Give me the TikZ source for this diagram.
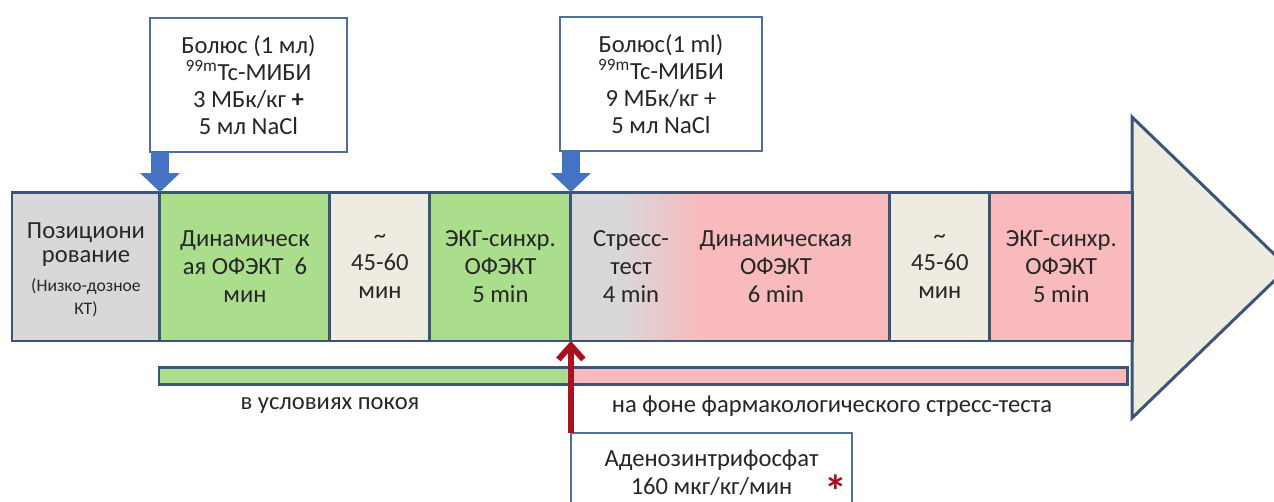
\documentclass[tikz,border=0pt]{standalone}
\usepackage{fontspec}
\setmainfont{Carlito}
\usetikzlibrary{arrows.meta,positioning}

\definecolor{edge}{RGB}{60,84,118}
\definecolor{boxline}{RGB}{78,110,160}
\definecolor{posgray}{RGB}{216,216,218}
\definecolor{restgreen}{RGB}{170,221,140}
\definecolor{waitbeige}{RGB}{238,236,225}
\definecolor{stresspink}{RGB}{248,186,188}
\definecolor{bolusblue}{RGB}{68,114,196}
\definecolor{adored}{RGB}{168,18,32}

\begin{document}
\begin{tikzpicture}[x=0.02cm, y=-0.02cm,
	every node/.style={text=black!85},
	stage/.style={draw=edge, line width=1.7pt, minimum height=2.98cm, inner sep=0pt, outer sep=0pt, align=center, font=\fontsize{14}{15.9}\selectfont},
	dose/.style={draw=boxline, line width=1.1pt, fill=white, inner sep=0pt, outer sep=0pt, align=center, font=\fontsize{14}{15.4}\selectfont},
	phase/.style={minimum height=0.34cm, inner sep=0pt, outer sep=0pt, anchor=west},
	bolus/.style={bolusblue, line width=0.36cm, -{Triangle[width=0.8cm, length=0.38cm, line width=0pt]}},
	infusion/.style={adored, line width=3.4pt, -{Straight Barb[width=0.5cm, length=0.28cm]}}]

	\clip (0,0) rectangle (1274,501);

	% arrow head
	\coordinate (H1) at (1132,117);
	\coordinate (H2) at (1288,267.5);
	\coordinate (H3) at (1132,418);
	\draw[draw=edge, line width=1.7pt, fill=waitbeige] (H1) -- (H2) -- (H3) -- cycle;

	% stages
	\node[stage, fill=posgray, minimum width=2.96cm, anchor=west] (pos) at (12,266.5)
		{\rule{0pt}{13pt}Позициони\\[-2.5pt]рование\\[1pt]{\fontsize{10}{11}\selectfont (Низко-дозное}\\[-3pt]{\fontsize{10}{11}\selectfont КТ)}};
	\node[stage, fill=restgreen, minimum width=3.4cm, right=0pt of pos] (dyn1) {Динамическ\\ая ОФЭКТ~~6\\мин};
	\node[stage, fill=waitbeige, minimum width=2cm, right=0pt of dyn1] (wait1) {\textasciitilde\\45-60\\мин};
	\node[stage, fill=restgreen, minimum width=2.82cm, right=0pt of wait1] (ecg1) {ЭКГ-синхр.\\ОФЭКТ\\5 min};
	\node[stage, fill=stresspink, minimum width=6.38cm, right=0pt of ecg1] (stress) {};
	\node[stage, fill=waitbeige, minimum width=2cm, right=0pt of stress] (wait2) {\textasciitilde\\45-60\\мин};
	\node[stage, fill=stresspink, minimum width=2.86cm, right=0pt of wait2] (ecg2) {ЭКГ-синхр.\\ОФЭКТ\\5 min};

	% grey to pink at the start of the stress stage
	\fill[posgray] (stress.north west) rectangle (622,341);
	\shade[left color=posgray, right color=stresspink] (620,192) rectangle (700,341);
	\draw[edge, line width=1.7pt] (stress.north west) rectangle (stress.south east);
	\node[align=center, font=\fontsize{14}{15.9}\selectfont] (test) at (631,266.5) {Стресс-\\тест\\4 min};
	\node[align=center, font=\fontsize{14}{15.9}\selectfont] (dyn2) at (776,266.5) {Динамическая\\ОФЭКТ\\6 min};

	% rest and stress phases
	\node[phase, fill=restgreen, minimum width=8.16cm] (rest) at (159,375.5) {};
	\node[phase, fill=stresspink, minimum width=11.22cm, right=0pt of rest] (load) {};
	\draw[edge, line width=1.7pt] (rest.north west) rectangle (load.south east);
	\node[font=\fontsize{14}{15.9}\selectfont] (restlbl) at (330,406) {в условиях покоя};
	\node[font=\fontsize{14}{15.9}\selectfont] (loadlbl) at (832,406) {на фоне фармакологического стресс-теста};

	% injections
	\node[dose, minimum width=3.94cm, minimum height=2.68cm] (dose1) at (248.5,85)
		{Болюс (1 мл)\\\textsuperscript{99m}Tc-МИБИ\\3 МБк/кг \textbf{+}\\5 мл NaCl};
	\node[dose, minimum width=4.04cm, minimum height=2.68cm] (dose2) at (661,84)
		{Болюс(1 ml)\\\textsuperscript{99m}Tc-МИБИ\\9 МБк/кг +\\5 мл NaCl};
	\draw[bolus] (pos.north east |- dose1.south) -- (pos.north east);
	\draw[bolus] (ecg1.north east |- dose2.south) -- (ecg1.north east);

	% adenosine
	\node[dose, minimum width=5.62cm, minimum height=2.4cm, anchor=north west] (ado) at (571,433) {};
	\node[align=center, font=\fontsize{14}{15.9}\selectfont] (adotxt) at (711.5,473)
		{Аденозинтрифосфат\\160 мкг/кг/мин};
	\node[text=adored, inner sep=1pt, font=\fontsize{26}{26}\bfseries\selectfont] (star) at (836,482)
		{\raisebox{-0.55em}[0pt][0pt]{*}};
	\draw[infusion] (ecg1.south east |- ado.north) -- (ecg1.south east);

\end{tikzpicture}
\end{document}
